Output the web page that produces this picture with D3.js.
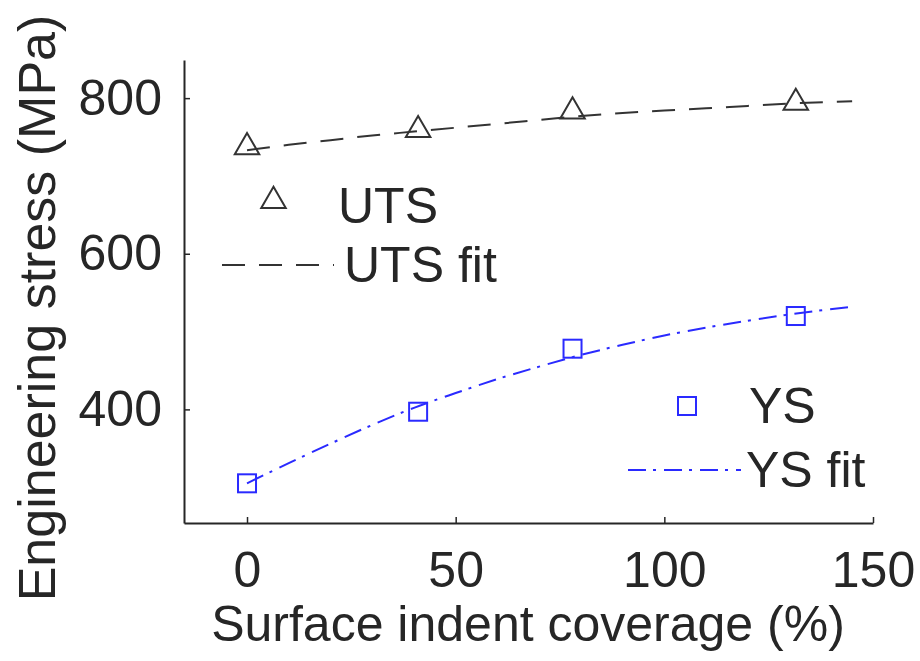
<!DOCTYPE html>
<html><head><meta charset="utf-8">
<script src="https://cdn.jsdelivr.net/npm/d3@7"></script>
<style>body{margin:0;background:#fff}svg{display:block}text{font-family:"Liberation Sans",Arial,sans-serif;fill:#262626}</style>
</head><body>
<script>
const coverage = [0, 41, 78, 131.5];
const uts = [737, 759, 783, 794];
const ys = [305, 397, 478, 520];
const fitX = [0, 10, 20, 30, 40, 50, 60, 70, 80, 90, 100, 110, 120, 130, 145];
const utsFit = [733, 740, 746, 752, 757, 762, 767, 772, 777, 781, 784, 787, 790, 793, 796];
const ysFit = [305, 331, 356, 380, 402, 421, 439, 455, 470, 483, 495, 505, 514, 522, 532];
const xTicks = [0, 50, 100, 150];
const yTicks = [400, 600, 800];

const W = 920, H = 661;
const svg = d3.select("body").append("svg").attr("width", W).attr("height", H);
const x = d3.scaleLinear().domain([-15.1, 150]).range([184, 873]);
const y = d3.scaleLinear().domain([254, 849]).range([523, 60]);
const axisCol = "#262626";

// axes
const gx = svg.append("g").attr("transform", "translate(0,523)")
  .call(d3.axisBottom(x).tickValues(xTicks).tickSize(-6).tickSizeOuter(0).tickPadding(28));
const gy = svg.append("g").attr("transform", "translate(184,0)")
  .call(d3.axisLeft(y).tickValues(yTicks).tickSize(-6).tickSizeOuter(0).tickPadding(22));
[gx, gy].forEach(g => {
  g.select(".domain").attr("stroke", axisCol).attr("stroke-width", 2);
  g.selectAll(".tick line").attr("stroke", axisCol).attr("stroke-width", 1.5);
  g.selectAll(".tick text").attr("font-size", 50).attr("fill", axisCol)
    .attr("font-family", '"Liberation Sans",Arial,sans-serif');
});
gx.selectAll(".tick text").attr("dy", "0.71em");

// titles
svg.append("text").attr("x", 528).attr("y", 641).attr("text-anchor", "middle")
  .attr("font-size", 50).text("Surface indent coverage (%)");
svg.append("text").attr("transform", "translate(55,308) rotate(-90)").attr("text-anchor", "middle")
  .attr("font-size", 52).text("Engineering stress (MPa)");

const blk = "#333333", blu = "#2a2aff";
const line = d3.line().x(d => x(d[0])).y(d => y(d[1])).curve(d3.curveMonotoneX);

svg.append("path").datum(fitX.map((v, i) => [v, utsFit[i]])).attr("d", line)
  .attr("fill", "none").attr("stroke", blk).attr("stroke-width", 2).attr("stroke-dasharray", "23,14");
svg.append("path").datum(fitX.map((v, i) => [v, ysFit[i]])).attr("d", line)
  .attr("fill", "none").attr("stroke", blu).attr("stroke-width", 2).attr("stroke-dasharray", "18,7,3,8");

const tri = d3.symbol().type(d3.symbolTriangle).size(260);
svg.append("g").selectAll("path").data(coverage).join("path")
  .attr("transform", (d, i) => `translate(${x(d)},${y(uts[i])})`)
  .attr("d", tri).attr("fill", "none").attr("stroke", blk).attr("stroke-width", 2);
svg.append("g").selectAll("rect").data(coverage).join("rect")
  .attr("x", d => x(d) - 9).attr("y", (d, i) => y(ys[i]) - 9).attr("width", 18).attr("height", 18)
  .attr("fill", "none").attr("stroke", blu).attr("stroke-width", 2);

// legends
svg.append("path").attr("transform", "translate(273.5,201)").attr("d", tri)
  .attr("fill", "none").attr("stroke", blk).attr("stroke-width", 2);
svg.append("text").attr("x", 338).attr("y", 223).attr("font-size", 50).attr("fill", "#1a1a1a").text("UTS");
svg.append("line").attr("x1", 222).attr("x2", 334).attr("y1", 265).attr("y2", 265)
  .attr("stroke", blk).attr("stroke-width", 2).attr("stroke-dasharray", "23,14");
svg.append("text").attr("x", 344).attr("y", 282).attr("font-size", 50).attr("fill", "#1a1a1a").text("UTS fit");

svg.append("rect").attr("x", 678).attr("y", 397).attr("width", 18).attr("height", 18)
  .attr("fill", "none").attr("stroke", blu).attr("stroke-width", 2);
svg.append("text").attr("x", 749).attr("y", 423).attr("font-size", 50).attr("fill", "#1a1a1a").text("YS");
svg.append("line").attr("x1", 628).attr("x2", 741).attr("y1", 470).attr("y2", 470)
  .attr("stroke", blu).attr("stroke-width", 2).attr("stroke-dasharray", "18,7,3,8");
svg.append("text").attr("x", 746).attr("y", 487).attr("font-size", 50).attr("fill", "#1a1a1a").text("YS fit");
</script>
</body></html>
